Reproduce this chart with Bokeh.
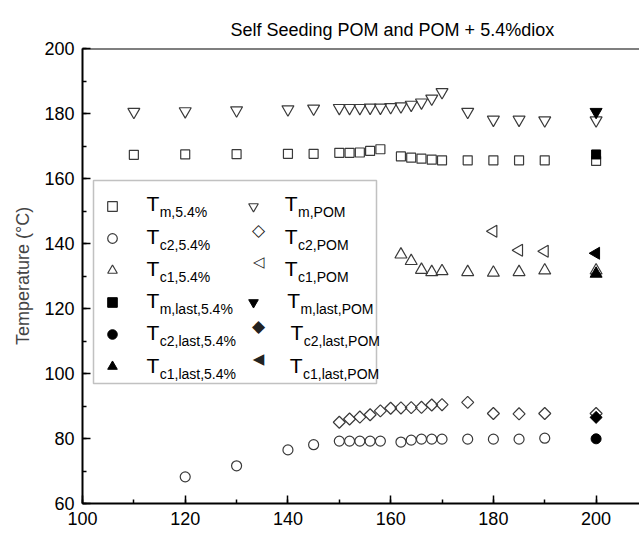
import math
from bokeh.plotting import figure
from bokeh.models import (Range1d, SingleIntervalTicker, Label, Span, Legend,
                          LegendItem, BoxAnnotation)
from bokeh.embed import file_html
from bokeh.resources import INLINE

# ---------------- data ----------------
ts_tm54 = [110, 120, 130, 140, 145, 150, 152, 154, 156, 158, 162, 164, 166, 168, 170, 175, 180, 185, 190, 200]
tm_54 = [167.3, 167.4, 167.5, 167.6, 167.6, 167.9, 167.9, 168.0, 168.5, 169.0, 166.8, 166.4, 166.1, 165.8, 165.6,
         165.6, 165.6, 165.6, 165.6, 165.4]

ts_tmpom = [110, 120, 130, 140, 145, 150, 152, 154, 156, 158, 160, 162, 164, 166, 168, 170, 175, 180, 185, 190, 200]
tm_pom = [180.5, 180.7, 181.0, 181.3, 181.5, 181.7, 181.7, 181.7, 181.8, 181.8, 182.0, 182.2, 182.7, 183.4, 184.6,
          186.6, 180.5, 178.1, 178.1, 177.9, 177.9]

ts_tc254 = [120, 130, 140, 145, 150, 152, 154, 156, 158, 162, 164, 166, 168, 170, 175, 180, 185, 190]
tc2_54 = [68.2, 71.6, 76.5, 78.1, 79.2, 79.2, 79.2, 79.2, 79.2, 78.9, 79.5, 79.8, 79.8, 79.8, 79.8, 79.8, 79.8, 80.1]

ts_tc2pom = [150, 152, 154, 156, 158, 160, 162, 164, 166, 168, 170, 175, 180, 185, 190, 200]
tc2_pom = [85.0, 86.0, 86.6, 87.3, 88.5, 89.3, 89.4, 89.5, 89.6, 90.3, 90.4, 91.1, 87.7, 87.6, 87.7, 87.7]

ts_tc154 = [162, 164, 166, 168, 170, 175, 180, 185, 190, 200]
tc1_54 = [136.6, 134.6, 131.9, 131.2, 131.5, 131.2, 131.0, 131.2, 131.7, 131.7]

ts_tc1pom = [180, 185, 190]
tc1_pom = [143.8, 137.9, 137.6]

ts_last = [200]
tm_last_54 = [167.4]
tm_last_pom = [180.5]
tc2_last_54 = [79.9]
tc2_last_pom = [86.5]
tc1_last_54 = [130.7]
tc1_last_pom = [137.0]

legend_subs_left = ["m,5.4%", "c2,5.4%", "c1,5.4%", "m,last,5.4%", "c2,last,5.4%", "c1,last,5.4%"]
legend_subs_right = ["m,POM", "c2,POM", "c1,POM", "m,last,POM", "c2,last,POM", "c1,last,POM"]

x_ticks_interval = 20
y_ticks_interval = 20

# ---------------- figure ----------------
FONT = "Liberation Sans"
p = figure(width=639, height=554, x_range=Range1d(100, 208.45), y_range=Range1d(60, 200),
           output_backend="svg", toolbar_location=None,
           min_border_left=82, min_border_right=0, min_border_top=48, min_border_bottom=51,
           title="Self Seeding POM and POM + 5.4%diox")
p.outline_line_color = None
p.grid.visible = False
p.background_fill_color = "white"
p.border_fill_color = "white"

p.title.text_font = FONT
p.title.text_font_size = "18px"
p.title.text_font_style = "normal"
p.title.align = "left"
p.title.offset = 148
p.title.standoff = 18
p.title.text_color = "black"

for ax, iv in ((p.xaxis[0], x_ticks_interval), (p.yaxis[0], y_ticks_interval)):
    ax.ticker = SingleIntervalTicker(interval=iv, num_minor_ticks=2)
    ax.axis_line_width = 2
    ax.axis_line_color = "black"
    ax.major_tick_in = 8
    ax.major_tick_out = 0
    ax.minor_tick_in = 4
    ax.minor_tick_out = 0
    ax.major_tick_line_width = 1.5
    ax.minor_tick_line_width = 1.5
    ax.major_label_text_font = FONT
    ax.major_label_text_font_size = "18px"
    ax.major_label_text_color = "black"
    ax.major_label_standoff = 8

p.yaxis.axis_label = "Temperature (°C)"
p.yaxis.axis_label_text_font = FONT
p.yaxis.axis_label_text_font_size = "18px"
p.yaxis.axis_label_text_font_style = "normal"
p.yaxis.axis_label_standoff = 8

# top border of frame
p.add_layout(Span(location=200, dimension="width", line_color="black", line_width=2))

OPEN = dict(line_color="#3a3a3a", fill_color=None, line_width=1.2)
FILL = dict(line_color="black", fill_color="black", line_width=1)

r_tm54 = p.scatter(ts_tm54, tm_54, marker="square", size=9, **OPEN)
r_tc254 = p.scatter(ts_tc254, tc2_54, marker="circle", size=10, **OPEN)
r_tc154 = p.scatter(ts_tc154, tc1_54, marker="triangle", size=12, **OPEN)
r_tmpom = p.scatter(ts_tmpom, tm_pom, marker="inverted_triangle", size=12, **OPEN)
r_tc2pom = p.scatter(ts_tc2pom, tc2_pom, marker="square", angle=math.pi / 4, size=8.5, **OPEN)
r_tc1pom = p.scatter(ts_tc1pom, tc1_pom, marker="triangle", angle=math.pi / 2, size=12, **OPEN)

r_tml54 = p.scatter(ts_last, tm_last_54, marker="square", size=9, **FILL)
r_tc2l54 = p.scatter(ts_last, tc2_last_54, marker="circle", size=10, **FILL)
r_tc1l54 = p.scatter(ts_last, tc1_last_54, marker="triangle", size=12, **FILL)
r_tmlpom = p.scatter(ts_last, tm_last_pom, marker="inverted_triangle", size=12, **FILL)
r_tc2lpom = p.scatter(ts_last, tc2_last_pom, marker="square", angle=math.pi / 4, size=8.5, **FILL)
r_tc1lpom = p.scatter(ts_last, tc1_last_pom, marker="triangle", angle=math.pi / 2, size=12, **FILL)

# placeholders in legend for rotated markers (legend ignores marker angle)
r_blank = p.scatter([], [], marker="square", line_alpha=0, fill_alpha=0)

# legend box (frame-relative screen units)
p.add_layout(BoxAnnotation(left=11, right=294, bottom=120, top=323,
                           left_units="screen", right_units="screen",
                           bottom_units="screen", top_units="screen",
                           fill_color="white", fill_alpha=1.0,
                           line_color="#333333", line_width=1.5))

left_r = [r_tm54, r_tc254, r_tc154, r_tml54, r_tc2l54, r_tc1l54]
right_r = [r_tmpom, r_blank, r_blank, r_tmlpom, r_blank, r_blank]
items = [LegendItem(label=" ", renderers=[r]) for r in left_r + right_r]
leg = Legend(items=items, location=(11, 121), orientation="vertical", ncols=2,
             padding=5, spacing=0, margin=0, glyph_width=38, glyph_height=24,
             label_height=32, label_width=103, label_standoff=0,
             border_line_color=None, background_fill_alpha=0,
             label_text_font_size="10px")
p.add_layout(leg, "center")

FRAME_BOTTOM = 503
ROW_Y = [196.7, 229.0, 261.3, 293.6, 325.9, 358.2]
SYM_X = 258
# rotated-marker symbols for the legend: (row, char, size)
for row, ch, fs in ((1, "\u25C7", "17px"), (2, "\u25C1", "15px"), (4, "\u25C6", "17px"), (5, "\u25C0", "15px")):
    p.add_layout(Label(x=SYM_X - 82, y=FRAME_BOTTOM - ROW_Y[row], x_units="screen", y_units="screen",
                       text=ch, text_font="DejaVu Sans", text_font_size=fs, text_color="#222222",
                       text_baseline="middle", text_align="center"))

# legend text: big T and subscript
T_BASE = [203.3, 235.5, 267.6, 300.0, 332.4, 364.5]
LEFT_T_X = [146, 146, 146, 146, 146, 146]
RIGHT_T_X = [284.3, 284.3, 284.3, 286.7, 290.0, 289.3]
for i in range(6):
    for tx, sub in ((LEFT_T_X[i], legend_subs_left[i]), (RIGHT_T_X[i], legend_subs_right[i])):
        p.add_layout(Label(x=tx - 82, y=FRAME_BOTTOM - T_BASE[i], x_units="screen", y_units="screen",
                           text="T", text_font=FONT, text_font_size="21px", text_color="black",
                           text_baseline="alphabetic", text_align="left"))
        p.add_layout(Label(x=tx - 82 + 13.2, y=FRAME_BOTTOM - T_BASE[i] - 8.5, x_units="screen", y_units="screen",
                           text=sub, text_font=FONT, text_font_size="14px", text_color="black",
                           text_baseline="alphabetic", text_align="left"))

# x-axis label T_s (°C)
XL_BASE = 543
XL_X = 305
p.add_layout(Label(x=XL_X - 82, y=FRAME_BOTTOM - XL_BASE, x_units="screen", y_units="screen",
                   text="T", text_font=FONT, text_font_size="18px", text_color="black",
                   text_baseline="alphabetic", text_align="left"))
p.add_layout(Label(x=XL_X - 82 + 11, y=FRAME_BOTTOM - XL_BASE - 4, x_units="screen", y_units="screen",
                   text="s", text_font=FONT, text_font_size="12px", text_color="black",
                   text_baseline="alphabetic", text_align="left"))
p.add_layout(Label(x=XL_X - 82 + 18, y=FRAME_BOTTOM - XL_BASE, x_units="screen", y_units="screen",
                   text=" (°C)", text_font=FONT, text_font_size="18px", text_color="black",
                   text_baseline="alphabetic", text_align="left"))

open("out.html", "w").write(file_html(p, INLINE))
